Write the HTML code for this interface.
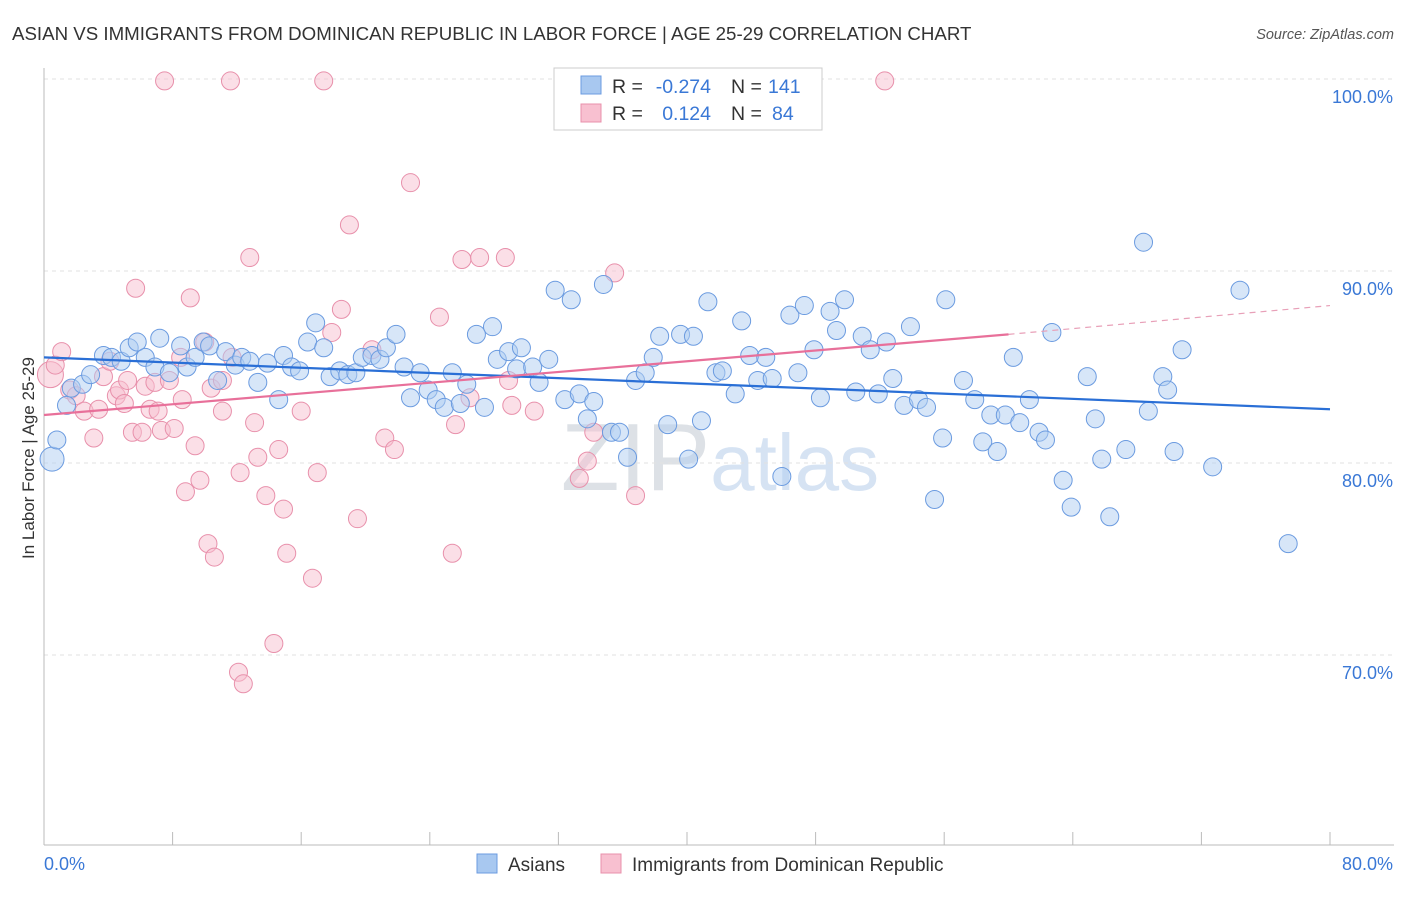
<!DOCTYPE html>
<html><head><meta charset="utf-8"><style>
body{margin:0;background:#fff;font-family:"Liberation Sans",sans-serif;}
svg text{font-family:"Liberation Sans",sans-serif;}
</style></head><body>
<svg id="chart" width="1406" height="892" xmlns="http://www.w3.org/2000/svg">
<text x="12" y="40" font-size="18.7" fill="#333">ASIAN VS IMMIGRANTS FROM DOMINICAN REPUBLIC IN LABOR FORCE | AGE 25-29 CORRELATION CHART</text>
<text x="1394" y="39" font-size="14.5" fill="#555" font-style="italic" text-anchor="end">Source: ZipAtlas.com</text>
<text x="720" y="490" font-size="96" fill="#e4e8ee" text-anchor="middle" font-family="Liberation Serif"><tspan fill="#dde1e6">ZIP</tspan><tspan fill="#d6e3f3" font-family="Liberation Sans" font-size="80">atlas</tspan></text>
<g id="grid"></g><g id="axes"></g><g id="pts"></g><g id="lines"></g>
<text transform="translate(34,458) rotate(-90)" font-size="17" fill="#333" text-anchor="middle">In Labor Force | Age 25-29</text>
<g>
<rect x="554" y="68" width="268" height="62" fill="#fff" stroke="#ccc"/>
<rect x="581" y="76" width="20" height="18" fill="#a8c8f0" stroke="#6b9be0"/>
<rect x="581" y="104" width="20" height="18" fill="#f8c0d0" stroke="#e890ab"/>
<text x="612" y="93" font-size="19.5" fill="#333">R =</text>
<text x="711" y="93" font-size="19.5" fill="#3a78d6" text-anchor="end">-0.274</text>
<text x="731" y="93" font-size="19.5" fill="#333">N =</text>
<text x="768" y="93" font-size="19.5" fill="#3a78d6">141</text>
<text x="612" y="120" font-size="19.5" fill="#333">R =</text>
<text x="711" y="120" font-size="19.5" fill="#3a78d6" text-anchor="end">0.124</text>
<text x="731" y="120" font-size="19.5" fill="#333">N =</text>
<text x="772" y="120" font-size="19.5" fill="#3a78d6">84</text>
</g>
<g>
<rect x="477" y="854" width="20" height="19" fill="#a8c8f0" stroke="#6b9be0"/>
<text x="508" y="871" font-size="19" fill="#333">Asians</text>
<rect x="601" y="854" width="20" height="19" fill="#f8c0d0" stroke="#e890ab"/>
<text x="632" y="871" font-size="19" fill="#333">Immigrants from Dominican Republic</text>
</g>
</svg>
<script>
const blueX=[0.5,0.8,1.4,1.7,2.4,2.9,3.7,4.2,4.8,5.3,5.8,6.3,6.9,7.2,7.8,8.5,8.9,9.4,9.9,10.3,10.8,11.3,11.9,12.3,12.8,13.3,13.9,14.6,14.9,15.4,15.9,16.4,16.9,17.4,17.8,18.4,18.9,19.4,19.8,20.4,20.9,21.3,21.9,22.4,22.8,23.4,23.9,24.4,24.9,25.4,25.9,26.3,26.9,27.4,27.9,28.2,28.9,29.4,29.7,30.4,30.8,31.4,31.8,32.4,32.8,33.3,33.8,34.2,34.8,35.3,35.8,36.3,36.8,37.4,37.9,38.3,38.8,39.6,40.1,40.4,40.9,41.3,41.8,42.2,43.0,43.4,43.9,44.4,44.9,45.3,45.9,46.4,46.9,47.3,47.9,48.3,48.9,49.3,49.8,50.5,50.9,51.4,51.9,52.4,52.8,53.5,53.9,54.4,54.9,55.4,55.9,56.1,57.2,57.9,58.4,58.9,59.3,59.8,60.3,60.7,61.3,61.9,62.3,62.7,63.4,63.9,64.9,65.4,65.8,66.3,67.3,68.4,68.7,69.6,69.9,70.3,70.8,72.7,74.4,77.4];
const blueY=[80.2,81.2,83.0,83.9,84.1,84.6,85.6,85.5,85.3,86.0,86.3,85.5,85.0,86.5,84.7,86.1,85.0,85.5,86.3,86.1,84.3,85.8,85.1,85.5,85.3,84.2,85.2,83.3,85.6,85.0,84.8,86.3,87.3,86.0,84.5,84.8,84.6,84.7,85.5,85.6,85.4,86.0,86.7,85.0,83.4,84.7,83.8,83.3,82.9,84.7,83.1,84.1,86.7,82.9,87.1,85.4,85.8,84.9,86.0,85.0,84.2,85.4,89.0,83.3,88.5,83.6,82.3,83.2,89.3,81.6,81.6,80.3,84.3,84.7,85.5,86.6,82.0,86.7,80.2,86.6,82.2,88.4,84.7,84.8,83.6,87.4,85.6,84.3,85.5,84.4,79.3,87.7,84.7,88.2,85.9,83.4,87.9,86.9,88.5,83.7,86.6,85.9,83.6,86.3,84.4,83.0,87.1,83.3,82.9,78.1,81.3,88.5,84.3,83.3,81.1,82.5,80.6,82.5,85.5,82.1,83.3,81.6,81.2,86.8,79.1,77.7,84.5,82.3,80.2,77.2,80.7,91.5,82.7,84.5,83.8,80.6,85.9,79.8,89.0,75.8];
const pinkX=[0.4,0.7,1.1,1.6,2.0,2.5,3.1,3.4,3.7,4.1,4.5,4.7,5.0,5.2,5.5,5.7,6.1,6.3,6.6,6.9,7.1,7.3,7.5,7.8,8.1,8.5,8.6,8.8,9.1,9.4,9.7,10.0,10.2,10.4,10.6,11.1,11.1,11.6,11.7,12.1,12.2,12.4,12.8,13.1,13.3,13.8,14.3,14.6,14.9,15.1,16.0,16.7,17.0,17.4,17.9,18.5,19.0,19.5,20.4,21.2,21.8,22.8,24.6,25.4,25.6,26.0,26.5,27.1,28.9,28.7,29.1,30.5,33.3,33.8,34.2,35.5,36.8,52.3];
const pinkY=[84.6,85.1,85.8,83.8,83.5,82.7,81.3,82.8,84.5,85.3,83.5,83.8,83.1,84.3,81.6,89.1,81.6,84.0,82.8,84.2,82.7,81.7,99.9,84.3,81.8,85.5,83.3,78.5,88.6,80.9,79.1,86.3,75.8,83.9,75.1,84.3,82.7,99.9,85.5,69.1,79.5,68.5,90.7,82.1,80.3,78.3,70.6,80.7,77.6,75.3,82.7,74.0,79.5,99.9,86.8,88.0,92.4,77.1,85.9,81.3,80.7,94.6,87.6,75.3,82.0,90.6,83.4,90.7,84.3,90.7,83.0,82.7,79.2,80.1,81.6,89.9,78.3,99.9];
const blueTrend=[85.5,82.8];
const pinkTrend=[82.5,86.7,88.2];
const yTicks=[100,90,80,70];
const xTickLabels=["0.0%","80.0%"];
const X0=44,X1=1330,XMAX=80,Y100=79,PPY=19.2;
const sx=v=>X0+v/XMAX*(X1-X0);
const sy=v=>Y100+(100-v)*PPY;
const NS="http://www.w3.org/2000/svg";
function mk(tag,attrs,parent,text){const e=document.createElementNS(NS,tag);for(const k in attrs)e.setAttribute(k,attrs[k]);if(text!==undefined)e.textContent=text;document.getElementById(parent).appendChild(e);return e;}
yTicks.forEach(t=>{
 const l=mk('line',{x1:X0,x2:1394,y1:sy(t),y2:sy(t),stroke:'#e2e2e2','stroke-dasharray':'4,4'},'grid');
 
 
 const tx=mk('text',{x:1393,y:sy(t)+24,'font-size':18,fill:'#3a78d6','text-anchor':'end'},'axes',t.toFixed(1)+'%');
 
 
});
const ax=mk('line',{x1:X0,x2:X0,y1:68,y2:845,stroke:'#bbb'},'axes');


const bx=mk('line',{x1:X0,x2:1394,y1:845,y2:845,stroke:'#bbb'},'axes');


for(let i=0;i<=10;i++){const t=mk('line',{x1:sx(i*8),x2:sx(i*8),y1:832,y2:845,stroke:'#bbb'},'axes');
 
 }
const xl0=mk('text',{x:44,y:870,'font-size':18,fill:'#3a78d6'},'axes',xTickLabels[0]);


const xl1=mk('text',{x:1393,y:870,'font-size':18,fill:'#3a78d6','text-anchor':'end'},'axes',xTickLabels[1]);


function dot(x,y,r,fill,stroke,name){const c=mk('circle',{cx:sx(x),cy:sy(y),r:r,fill:fill,'fill-opacity':0.5,stroke:stroke,'stroke-width':1},'pts');
 
 }
pinkX.forEach((x,i)=>dot(x,pinkY[i],i===0?13:9,'#f8c0d0','#e890ab','dominican-point'));
blueX.forEach((x,i)=>dot(x,blueY[i],i===0?12:9,'#b0cdf2','#6b9be0','asian-point'));
const bl=mk('line',{x1:sx(0),y1:sy(blueTrend[0]),x2:sx(80),y2:sy(blueTrend[1]),stroke:'#2a6fd6','stroke-width':2.2},'lines');


const pl=mk('line',{x1:sx(0),y1:sy(pinkTrend[0]),x2:sx(60),y2:sy(pinkTrend[1]),stroke:'#e8709a','stroke-width':2.2},'lines');


const pd=mk('line',{x1:sx(60),y1:sy(pinkTrend[1]),x2:sx(80),y2:sy(pinkTrend[2]),stroke:'#e8a0b8','stroke-width':1.2,'stroke-dasharray':'6,5'},'lines');


</script>
</body></html>
